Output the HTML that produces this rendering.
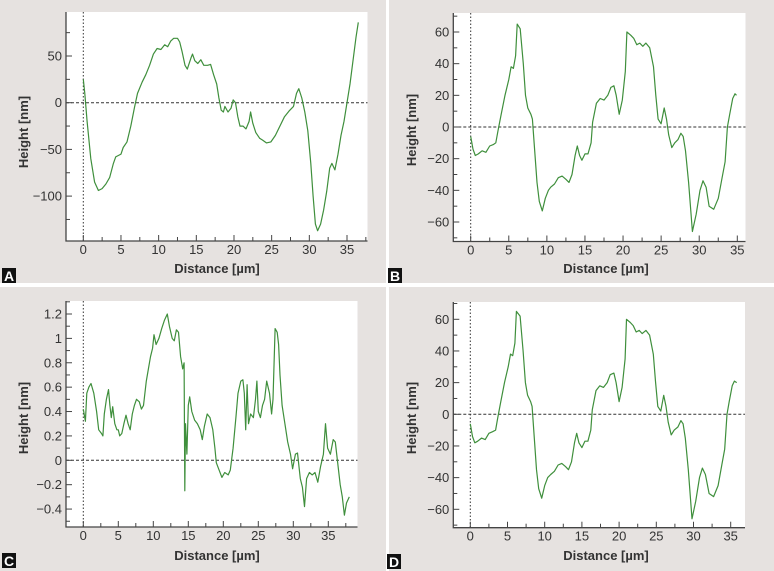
<!DOCTYPE html>
<html><head><meta charset="utf-8"><style>
html,body{margin:0;padding:0;background:#fff;}
svg{display:block;font-family:"Liberation Sans",sans-serif;}
</style></head><body>
<svg id="fig" width="774" height="571" viewBox="0 0 774 571"></svg>
<script>
// Panel A data (Distance µm, Height nm)
const aX=[0,0.2,0.5,1,1.5,2,2.5,3,3.5,4,4.3,5,5.3,5.8,6.3,6.8,7.2,7.8,8.3,8.8,9.3,9.8,10.3,10.8,11.2,11.6,12,12.5,12.8,13.1,13.5,13.8,14.3,14.5,14.8,15.2,15.6,16,16.5,16.9,17.3,17.7,18,18.3,18.6,18.8,19.2,19.6,19.9,20.2,20.5,20.8,21.2,21.6,22,22.2,22.5,22.9,23.4,23.8,24.3,24.9,25.5,26.1,26.7,27.3,27.9,28.3,28.6,29,29.4,29.8,30.2,30.5,30.8,31.1,31.5,31.9,32.3,32.7,33,33.4,33.8,34.2,34.6,35,35.4,35.8,36.2,36.5];
const aY=[25,10,-20,-60,-85,-94,-92,-87,-80,-65,-58,-55,-48,-42,-25,-5,10,22,30,40,52,58,57,62,60,66,69,69,65,55,40,36,48,52,45,42,46,40,40,41,30,20,5,-8,-10,-4,-10,-6,3,0,-15,-25,-25,-28,-20,-10,-22,-32,-38,-40,-43,-42,-35,-25,-15,-9,-4,10,15,5,-10,-30,-65,-100,-130,-137,-130,-115,-95,-70,-65,-72,-55,-35,-20,0,20,45,70,86];
// Panel B data
const bX=[0,0.3,0.6,1,1.5,2,2.5,3,3.3,3.6,4,4.5,5,5.3,5.6,5.9,6.1,6.5,6.9,7.2,7.5,7.9,8.1,8.4,8.7,9,9.4,9.8,10.2,10.5,11,11.5,12,12.5,12.9,13.3,13.7,14,14.3,14.6,15,15.4,15.8,16,16.5,17,17.5,18,18.4,18.8,19.1,19.5,19.9,20.3,20.5,21,21.4,21.8,22.2,22.6,23,23.5,24,24.3,24.6,25,25.4,25.7,26,26.4,26.8,27.2,27.6,27.9,28.2,28.6,29.1,29.6,30.1,30.5,30.9,31.3,31.9,32.5,33,33.4,33.7,34,34.4,34.7,34.9];
const bY=[-6,-14,-18,-17,-15,-16,-12,-11,-10,-2,8,20,30,38,37,45,65,62,40,20,12,8,5,-15,-35,-47,-53,-45,-40,-38,-36,-32,-31,-33,-35,-30,-18,-12,-18,-21,-17,-17,-10,3,15,18,17,20,25,26,20,8,17,35,60,58,56,52,53,51,53,50,38,20,5,2,12,5,-5,-13,-10,-8,-4,-6,-15,-35,-66,-55,-40,-34,-38,-50,-52,-45,-32,-22,0,8,18,21,20];
// Panel C data
const cX=[0,0.3,0.5,0.8,1.1,1.5,1.9,2.2,2.6,2.8,3,3.3,3.6,3.8,4,4.2,4.5,4.8,5,5.2,5.5,5.8,6.1,6.4,6.7,7,7.3,7.6,8,8.3,8.6,9,9.3,9.6,9.9,10.1,10.4,10.8,11.2,11.6,12,12.3,12.7,13,13.3,13.6,13.9,14.2,14.4,14.5,14.6,14.8,15,15.2,15.5,15.9,16.3,16.7,17,17.3,17.7,18.1,18.5,18.8,19,19.4,19.8,20.2,20.7,21,21.4,21.8,22.1,22.5,22.8,23,23.2,23.4,23.6,23.9,24.3,24.6,24.8,25,25.3,25.6,25.9,26.2,26.6,26.9,27.1,27.4,27.7,27.9,28.1,28.4,28.8,29.2,29.6,29.9,30.3,30.6,31,31.3,31.6,31.9,32.3,32.7,33.1,33.5,33.9,34.3,34.6,34.9,35.3,35.7,36,36.3,36.7,37,37.3,37.6,38];
const cY=[0.42,0.32,0.55,0.6,0.63,0.55,0.4,0.25,0.22,0.2,0.38,0.5,0.58,0.45,0.35,0.44,0.3,0.25,0.25,0.2,0.22,0.3,0.37,0.3,0.25,0.38,0.45,0.5,0.48,0.42,0.45,0.65,0.75,0.85,0.92,1.03,0.95,1.0,1.08,1.15,1.2,1.1,1.0,0.98,1.07,1.05,0.85,0.75,0.8,-0.25,0.3,0.05,0.45,0.52,0.4,0.33,0.3,0.25,0.17,0.28,0.38,0.35,0.25,0.1,-0.02,-0.08,-0.14,-0.1,-0.12,-0.08,0.1,0.35,0.55,0.65,0.66,0.55,0.25,0.62,0.3,0.38,0.35,0.5,0.65,0.4,0.35,0.45,0.5,0.65,0.55,0.38,0.5,1.08,1.05,0.95,0.7,0.45,0.3,0.15,0.05,-0.07,0.05,0.06,-0.15,-0.22,-0.38,-0.15,-0.1,-0.12,-0.1,-0.18,-0.05,0.05,0.3,0.1,0.05,0.17,0.15,0.0,-0.2,-0.3,-0.45,-0.35,-0.3];
// Panel D data
const dX=[0,0.3,0.6,1,1.5,2,2.5,3,3.4,3.7,4.1,4.6,5.1,5.4,5.7,6,6.2,6.7,7.1,7.4,7.7,8.1,8.3,8.6,8.9,9.2,9.6,10,10.4,10.8,11.3,11.8,12.3,12.8,13.2,13.6,14,14.3,14.6,15,15.4,15.8,16.2,16.4,16.9,17.4,17.9,18.4,18.8,19.3,19.6,20,20.4,20.8,21,21.5,21.9,22.3,22.7,23.1,23.6,24.1,24.6,24.9,25.2,25.6,26,26.3,26.6,27,27.4,27.9,28.3,28.6,28.9,29.3,29.8,30.3,30.8,31.2,31.6,32.1,32.7,33.3,33.8,34.2,34.5,34.8,35.2,35.5,35.8];
const dY=[-6,-14,-18,-17,-15,-16,-12,-11,-10,-2,8,20,30,38,37,45,65,62,40,20,12,8,5,-15,-35,-47,-53,-45,-40,-38,-36,-32,-31,-33,-35,-30,-18,-12,-18,-21,-17,-17,-10,3,15,18,17,20,25,26,20,8,17,35,60,58,56,52,53,51,53,50,38,20,5,2,12,5,-5,-13,-10,-8,-4,-6,-15,-35,-66,-55,-40,-34,-38,-50,-52,-45,-32,-22,0,8,18,21,20];
const aYTicks=[50,0,-50,-100];
const bYTicks=[60,40,20,0,-20,-40,-60];
const cYTicks=[1.2,1,0.8,0.6,0.4,0.2,0,-0.2,-0.4];
const xTicks=[0,5,10,15,20,25,30,35];
const cXTicks=[0,5,10,15,20,25,30,35];

const NS="http://www.w3.org/2000/svg";
const svg=document.getElementById('fig');
function mk(tag,attrs,parent){const e=document.createElementNS(NS,tag);for(const k in attrs)e.setAttribute(k,attrs[k]);(parent||svg).appendChild(e);return e;}

function panel(p){
  const g=mk('g',{});
  
  
  const bg=mk('rect',{x:p.bx,y:p.by,width:p.bw,height:p.bh,fill:'#e6e2e0'},g);
  
  
  const pa=mk('rect',{x:p.l,y:p.t,width:p.r-p.l,height:p.b-p.t,fill:'#fff'},g);
  
  
  const sx=v=>p.x0+(v)*(p.x35-p.x0)/35;
  const sy=v=>p.y0+(v-0)*(p.yt-p.y0)/p.ytv;
  // zero lines
  const zh=mk('line',{x1:p.l,x2:p.r,y1:sy(0),y2:sy(0),stroke:'#333','stroke-width':1,'stroke-dasharray':'3,2'},g);
  
  
  const zv=mk('line',{x1:sx(0),x2:sx(0),y1:p.t,y2:p.b,stroke:'#333','stroke-width':1,'stroke-dasharray':'1.5,2'},g);
  
  
  // axes
  const ax=mk('path',{d:`M${p.l},${p.t}V${p.b}H${p.r}`,fill:'none',stroke:'#444','stroke-width':1.3},g);
  
  
  // x ticks
  for(let v=0;v<=p.xmax;v+=2.5){
    const X=sx(v),maj=(v%5===0);
    mk('line',{x1:X,x2:X,y1:p.b,y2:p.b-(maj?6:4),stroke:'#444','stroke-width':1},g);
  }
  p.xt.forEach(v=>{
    const t=mk('text',{x:sx(v),y:p.b+13,'text-anchor':'middle','font-size':13,fill:'#333'},g);
    t.textContent=v;
    
    
  });
  // y ticks
  for(let k=Math.ceil(p.ymin/p.minor);k*p.minor<=p.ymax;k++){
    const v=k*p.minor,Y=sy(v);
    const maj=p.yticks.some(m=>Math.abs(m-v)<1e-9);
    mk('line',{x1:p.l,x2:p.l+(maj?6:4),y1:Y,y2:Y,stroke:'#444','stroke-width':1},g);
  }
  p.yticks.forEach(v=>{
    const t=mk('text',{x:p.l-4,y:sy(v)+4.5,'text-anchor':'end','font-size':13,fill:'#333'},g);
    t.textContent=(v<0?'\u2212'+Math.abs(v):String(v));
    
    
  });
  const yt=mk('text',{x:p.hx,y:p.hy,'text-anchor':'middle','font-size':13,'font-weight':'bold',fill:'#333',transform:`rotate(-90 ${p.hx} ${p.hy})`},g);
  yt.textContent='Height [nm]';
  
  
  const xtt=mk('text',{x:p.dx,y:p.dy,'text-anchor':'middle','font-size':13,'font-weight':'bold',fill:'#333'},g);
  xtt.textContent='Distance [\u00b5m]';
  
  
  // series
  const d=p.xs.map((v,i)=>(i?'L':'M')+sx(v).toFixed(1)+','+sy(p.ys[i]).toFixed(1)).join('');
  const ln=mk('path',{d:d,fill:'none',stroke:'#3f8f3c','stroke-width':1.2,'stroke-linejoin':'round'},g);
  
  
  // label
  const lb=mk('rect',{x:p.lx,y:p.ly,width:14,height:15,fill:'#111'},g);
  
  
  const lt=mk('text',{x:p.lx+7,y:p.ly+13,'text-anchor':'middle','font-size':14,'font-weight':'bold',fill:'#fff'},g);
  lt.textContent=p.id;
  
  
}

panel({id:'A',bx:0,by:0,bw:386,bh:283,l:66,r:367.5,t:12,b:241,x0:83.3,x35:347,y0:102.7,yt:56,ytv:50,xmax:37.5,ymin:-147,ymax:96,minor:25,yticks:aYTicks,xt:xTicks,xs:aX,ys:aY,hx:28,hy:132,dx:217,dy:273,lx:2,ly:268});
panel({id:'B',bx:389,by:0,bw:385,bh:283,l:453.3,r:745.5,t:13,b:241.5,x0:470.7,x35:737.3,y0:127,yt:32,ytv:60,xmax:36.5,ymin:-72,ymax:72,minor:10,yticks:bYTicks,xt:xTicks,xs:bX,ys:bY,hx:416,hy:130,dx:606,dy:273,lx:388,ly:268});
panel({id:'C',bx:0,by:287,bw:386,bh:284,l:66,r:357.5,t:301,b:527,x0:83.3,x35:328.3,y0:460.3,yt:314,ytv:1.2,xmax:39,ymin:-0.5,ymax:1.3,minor:0.1,yticks:cYTicks,xt:cXTicks,xs:cX,ys:cY,hx:28,hy:418,dx:217,dy:560,lx:2,ly:553});
panel({id:'D',bx:389,by:287,bw:385,bh:284,l:453.3,r:745,t:302,b:527.7,x0:470.3,x35:730.7,y0:414.3,yt:319.3,ytv:60,xmax:37,ymin:-72,ymax:72,minor:10,yticks:bYTicks,xt:xTicks,xs:dX,ys:dY,hx:416,hy:418,dx:606,dy:560,lx:387,ly:554});
</script>
</body></html>
